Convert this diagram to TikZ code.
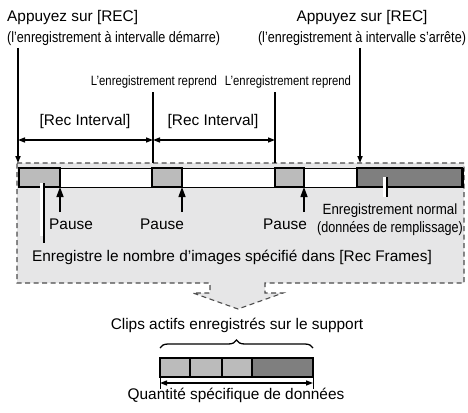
\documentclass[tikz,border=0pt]{standalone}
\usepackage{fontspec}
\setmainfont{Liberation Sans}
\newfontfamily\condfont[FakeStretch=0.84]{Liberation Sans}
\newfontfamily\semicondfont[FakeStretch=0.9]{Liberation Sans}
\usetikzlibrary{arrows.meta,positioning,decorations.pathreplacing}
\definecolor{panelgray}{HTML}{E6E6E7}
\definecolor{seglight}{HTML}{BBBBBB}
\definecolor{segdark}{HTML}{7F7F7F}

\begin{document}
\begin{tikzpicture}[
    x=1pt, y=-1pt,
    >={Triangle[length=7pt,width=5pt]},
    txt/.style={inner sep=0pt, anchor=base, font=\fontsize{15.4}{18}\selectfont},
    cond/.style={inner sep=0pt, anchor=base, font=\condfont\fontsize{15}{17}\selectfont},
    smallcond/.style={inner sep=0pt, anchor=base, font=\condfont\fontsize{13.5}{16}\selectfont},
    semicond/.style={inner sep=0pt, anchor=base, font=\semicondfont\fontsize{14.8}{17}\selectfont},
    seg/.style={draw, line width=1.6pt, fill=seglight, minimum height=19pt, inner sep=0pt, outer sep=0pt, anchor=north west},
    darkseg/.style={seg, fill=segdark},
    marker/.style={line width=1.6pt},
    span/.style={<->, line width=1.3pt},
    pausearrow/.style={-{Triangle[length=10pt,width=7pt]}, line width=1.3pt},
    leader/.style={line width=1.3pt},
    halo/.style={draw=white, line width=3pt},
    panel/.style={draw=black!70, fill=panelgray, line width=1.1pt, dash pattern=on 5pt off 3.5pt}
    ]
    \useasboundingbox (0,0) rectangle (468,412);

    % dashed panel with the arrow to the media
    \draw[panel] (17,163) -- (464,163) -- (464,283) -- (265,283) -- (265,293) -- (283,293)
        -- (238,309) -- (193,293) -- (210,293) -- (210,283) -- (17,283) -- cycle;

    % time line
    \node[draw, line width=0.8pt, fill=white, minimum width=445pt, minimum height=19pt,
        inner sep=0pt, anchor=north west] (strip) at (18,168) {};
    \node[seg, minimum width=41pt] (s1) at (19,168) {};
    \node[seg, minimum width=30pt] (s2) at (152,168) {};
    \node[seg, minimum width=29pt] (s3) at (275,168) {};
    \node[darkseg, minimum width=105pt] (s4) at (357,168) {};

    % top labels
    \node[txt, anchor=base west] (starttxt) at (7,22) {Appuyez sur [REC]};
    \node[cond, anchor=base west] (startsub) at (7,42) {(l’enregistrement à intervalle démarre)};
    \node[txt] (stoptxt) at (362,22) {Appuyez sur [REC]};
    \node[cond] (stopsub) at (362,42) {(l’enregistrement à intervalle s’arrête)};
    \node[smallcond] (rep1txt) at (154,85) {L’enregistrement reprend};
    \node[smallcond] (rep2txt) at (288,85) {L’enregistrement reprend};
    \node[txt] (int1) at (85,125) {[Rec Interval]};
    \node[txt] (int2) at (213,125) {[Rec Interval]};

    \coordinate (ptop) at (0,163);
    \coordinate (spanrow) at (0,140);
    \coordinate (recon) at (18,48);
    \coordinate (rep1) at (153,92);
    \coordinate (rep2) at (275,92);
    \coordinate (recoff) at (360,48);

    \draw[marker,->] (recon) -- (recon |- ptop);
    \draw[marker] (rep1) -- (rep1 |- ptop);
    \draw[marker] (rep2) -- (rep2 |- ptop);
    \draw[marker,->] (recoff) -- (recoff |- ptop);

    \draw[span] (recon |- spanrow) -- (rep1 |- spanrow);
    \draw[span] (rep1 |- spanrow) -- (rep2 |- spanrow);

    % pauses
    \coordinate (pauserow) at (0,212);
    \draw[pausearrow] (s1.south east |- pauserow) -- (s1.south east);
    \draw[pausearrow] (s2.south east |- pauserow) -- (s2.south east);
    \draw[pausearrow] (s3.south east |- pauserow) -- (s3.south east);
    \node[txt] (pause1) at (71,229) {Pause};
    \node[txt] (pause2) at (162,229) {Pause};
    \node[txt] (pause3) at (285,229) {Pause};

    % leaders
    \node[txt] (frames) at (232,261) {Enregistre le nombre d’images spécifié dans [Rec Frames]};
    \coordinate (ld1) at (44,183);
    \draw[halo] (41.5,183) -- (41.5,236);
    \draw[leader] (ld1) -- (ld1 |- 0,243);
    \node[semicond] (normal) at (390,214) {Enregistrement normal};
    \node[cond] (filler) at (390,232) {(données de remplissage)};
    \coordinate (ld2) at (387,177);
    \draw[halo] (384.5,177) -- (384.5,197);
    \draw[leader] (ld2) -- (ld2 |- 0,197);

    % media
    \node[txt] (clips) at (237,329) {Clips actifs enregistrés sur le support};
    \node[seg, minimum width=30pt] (c1) at (160,358) {};
    \node[seg, minimum width=32pt, right=0pt of c1] (c2) {};
    \node[seg, minimum width=30pt, right=0pt of c2] (c3) {};
    \node[darkseg, minimum width=61pt, right=0pt of c3] (c4) {};

    \draw[decorate, decoration={brace, amplitude=8pt}, line width=1.3pt]
        (c1.north west |- 0,348) -- (c4.north east |- 0,348);

    \coordinate (qrow) at (0,383);
    \draw[line width=1pt] (c1.south west) -- ++(0,12);
    \draw[line width=1pt] (c4.south east) -- ++(0,12);
    \draw[span] (c1.south west |- qrow) -- (c4.south east |- qrow);
    \node[txt] (amount) at (236,399) {Quantité spécifique de données};
\end{tikzpicture}
\end{document}
